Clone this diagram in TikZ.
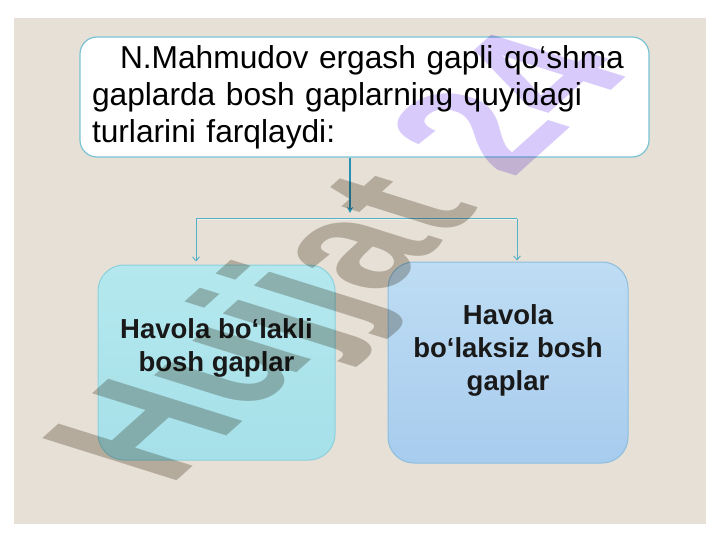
\documentclass[tikz,border=0pt]{standalone}
\usepackage{fontspec}
\setmainfont{Liberation Sans}
\usetikzlibrary{arrows.meta, positioning}

\definecolor{bgbeige}{RGB}{230,224,214}
\definecolor{topedge}{RGB}{120,196,212}
\definecolor{arrowblue}{RGB}{40,145,180}
\definecolor{linkblue}{RGB}{86,176,200}
\definecolor{cyantop}{RGB}{180,232,238}
\definecolor{cyanbot}{RGB}{166,224,233}
\definecolor{cyanedge}{RGB}{140,208,220}
\definecolor{bluetop}{RGB}{190,221,244}
\definecolor{bluebot}{RGB}{168,204,238}
\definecolor{blueedge}{RGB}{140,190,222}
\definecolor{markgray}{RGB}{200,195,188}
\definecolor{markviolet}{RGB}{216,202,250}

\begin{document}
\begin{tikzpicture}[x=1pt, y=-1pt,
    topbox/.style={draw=topedge, line width=1.2pt, fill=white, rounded corners=17pt,
      minimum width=569pt, minimum height=120pt, text width=545pt, inner xsep=12pt,
      align=left, font=\fontsize{31.7}{37}\selectfont},
    typebox/.style={line width=1pt, rounded corners=26pt},
    typetext/.style={align=center, text=black!90, font=\fontsize{27.5}{33}\selectfont\bfseries},
    link/.style={draw=linkblue, line width=0.9pt}]
  \useasboundingbox (0,0) rectangle (720,540);
  % Background
  \fill[white] (0,0) rectangle (720,540);
  \fill[bgbeige] (14,18) rectangle (706,524);
  % Main statement
  \node[topbox] (top) at (364.5,97)
    {\hspace*{28pt}N.Mahmudov ergash gapli qo‘shma\\gaplarda bosh gaplarning quyidagi\\turlarini farqlaydi:};
  % Two types
  \node[typebox, draw=cyanedge, top color=cyantop, bottom color=cyanbot,
    minimum width=237pt, minimum height=195pt] (left) at (216.5,362.5) {};
  \node[typebox, draw=blueedge, top color=bluetop, bottom color=bluebot,
    minimum width=240pt, minimum height=201pt] (right) at (508,362.5) {};
  \node[typetext] (lefttext) at ([yshift=14.5pt]left.center) {Havola bo‘lakli\\bosh gaplar};
  \node[typetext] (righttext) at ([yshift=12.5pt]right.center) {Havola\\bo‘laksiz bosh\\gaplar};
  % Connectors
  \coordinate (split) at (350,213);
  \coordinate (lsplit) at (196,219);
  \coordinate (rsplit) at (517,219);
  \draw[arrowblue, line width=2pt, -{Stealth[length=6pt,width=6pt]}] (top.south -| split) -- (split);
  \draw[link, line width=0.5pt, double=white!50!bgbeige, double distance=0.8pt] (lsplit) -- (rsplit);
  \draw[link, shorten >=3pt, -{Straight Barb[length=4pt,width=7pt]}] (lsplit) -- (lsplit |- left.north);
  \draw[link, shorten >=1pt, -{Straight Barb[length=4pt,width=7pt]}] (rsplit) -- (rsplit |- right.north);
  % Watermark
  \begin{scope}[cm={1.122,1.010,-1.952,0.613,(169,488)}, blend mode=multiply]
    \node[transform shape, anchor=base west, inner sep=0pt,
      font=\fontsize{100}{100}\selectfont\bfseries] (mark) at (0,0)
      {\textcolor{markgray}{Hujjat} \textcolor{markviolet}{24}};
  \end{scope}
\end{tikzpicture}
\end{document}
